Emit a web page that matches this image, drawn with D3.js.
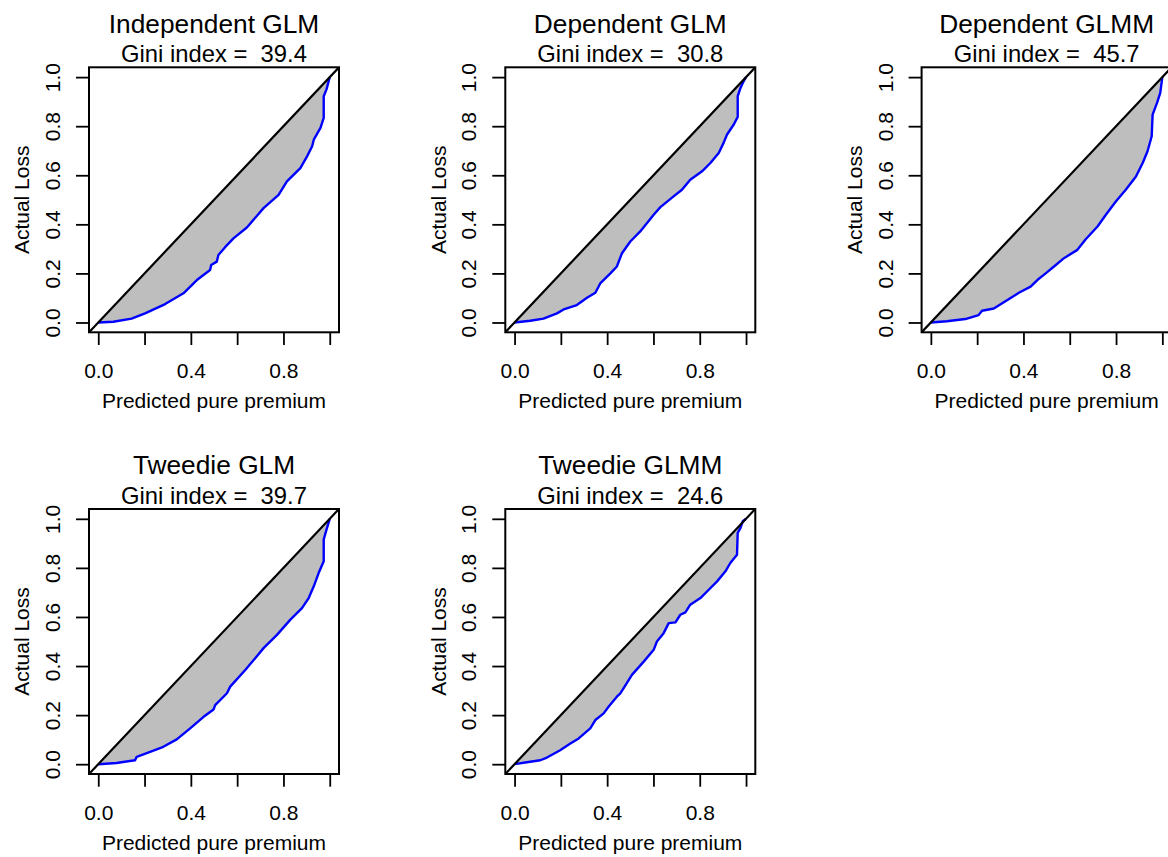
<!DOCTYPE html>
<html>
<head>
<meta charset="utf-8">
<script src="https://cdn.jsdelivr.net/npm/d3@7"></script>
<style>
  html, body { margin: 0; padding: 0; background: #ffffff; }
  svg { display: block; font-family: "Liberation Sans", Arial, Helvetica, sans-serif; }
  text { white-space: pre; }
</style>
</head>
<body>
<svg id="chart" width="1168" height="857"></svg>
<script>
// Model names and Gini indices, one per panel
const modelNames = ["Independent GLM", "Dependent GLM", "Dependent GLMM", "Tweedie GLM", "Tweedie GLMM"];
const giniValues = ["39.4", "30.8", "45.7", "39.7", "24.6"];

// Ordered Lorenz curves: x = predicted pure premium share, y = actual loss share
const indepGlmX = [0, 0.065, 0.144, 0.202, 0.289, 0.368, 0.426, 0.483, 0.488, 0.512, 0.519, 0.548, 0.584, 0.642, 0.714, 0.779, 0.815, 0.873, 0.902, 0.924, 0.931, 0.960, 0.974, 0.974, 0.986, 1];
const indepGlmY = [0, 0.003, 0.016, 0.037, 0.075, 0.119, 0.173, 0.214, 0.234, 0.248, 0.275, 0.307, 0.343, 0.387, 0.466, 0.520, 0.575, 0.629, 0.677, 0.718, 0.745, 0.793, 0.834, 0.922, 0.950, 1];

const depGlmX = [0, 0.068, 0.125, 0.183, 0.212, 0.269, 0.313, 0.349, 0.370, 0.414, 0.442, 0.450, 0.464, 0.500, 0.543, 0.601, 0.630, 0.687, 0.723, 0.759, 0.810, 0.846, 0.882, 0.903, 0.918, 0.947, 0.964, 0.964, 0.976, 0.990, 1];
const depGlmY = [0, 0.007, 0.016, 0.037, 0.053, 0.071, 0.101, 0.121, 0.159, 0.200, 0.228, 0.248, 0.282, 0.330, 0.371, 0.439, 0.470, 0.514, 0.541, 0.582, 0.616, 0.650, 0.691, 0.732, 0.766, 0.807, 0.838, 0.922, 0.956, 0.984, 1];

const depGlmmX = [0, 0.069, 0.149, 0.206, 0.221, 0.272, 0.329, 0.380, 0.431, 0.460, 0.496, 0.532, 0.575, 0.633, 0.669, 0.720, 0.756, 0.799, 0.842, 0.886, 0.915, 0.936, 0.954, 0.958, 0.977, 0.991, 1];
const depGlmmY = [0, 0.005, 0.014, 0.030, 0.048, 0.057, 0.091, 0.121, 0.146, 0.173, 0.200, 0.228, 0.262, 0.296, 0.339, 0.391, 0.439, 0.493, 0.541, 0.595, 0.650, 0.698, 0.759, 0.847, 0.895, 0.936, 1];

const tweedieGlmX = [0, 0.079, 0.159, 0.166, 0.224, 0.281, 0.339, 0.397, 0.455, 0.498, 0.505, 0.556, 0.570, 0.635, 0.678, 0.714, 0.772, 0.830, 0.880, 0.909, 0.931, 0.952, 0.974, 0.974, 0.986, 1];
const tweedieGlmY = [0, 0.005, 0.016, 0.030, 0.050, 0.071, 0.101, 0.146, 0.193, 0.223, 0.241, 0.289, 0.316, 0.384, 0.432, 0.473, 0.527, 0.589, 0.636, 0.677, 0.725, 0.779, 0.827, 0.916, 0.956, 1];

const tweedieGlmmX = [0, 0.046, 0.111, 0.140, 0.197, 0.241, 0.277, 0.327, 0.349, 0.385, 0.406, 0.442, 0.457, 0.493, 0.507, 0.558, 0.601, 0.615, 0.644, 0.666, 0.695, 0.716, 0.738, 0.759, 0.803, 0.839, 0.875, 0.911, 0.932, 0.961, 0.964, 0.976, 0.986, 1];
const tweedieGlmmY = [0, 0.007, 0.016, 0.027, 0.057, 0.084, 0.105, 0.146, 0.180, 0.207, 0.234, 0.275, 0.289, 0.343, 0.364, 0.418, 0.466, 0.500, 0.534, 0.575, 0.578, 0.609, 0.619, 0.650, 0.677, 0.711, 0.745, 0.786, 0.820, 0.854, 0.943, 0.963, 0.990, 1];

const curveXs = [indepGlmX, depGlmX, depGlmmX, tweedieGlmX, tweedieGlmmX];
const curveYs = [indepGlmY, depGlmY, depGlmmY, tweedieGlmY, tweedieGlmmY];

// Axis ticks (every tick drawn, only some labelled)
const xTicks = [0, 0.2, 0.4, 0.6, 0.8, 1.0];
const xTickLabels = ["0.0", "", "0.4", "", "0.8", ""];
const yTicks = [0, 0.2, 0.4, 0.6, 0.8, 1.0];
const yTickLabels = ["0.0", "0.2", "0.4", "0.6", "0.8", "1.0"];

const xTitle = "Predicted pure premium";
const yTitle = "Actual Loss";

// Layout of the panel grid
const panelW = 250, panelH = 265;
const firstLeft = 89, firstTop = 67.3;
const colStep = 416.3, rowStep = 441.7;
const nCols = 3;
const axisFont = 21, titleFont = 26.3, giniFont = 23.8;

const svg = d3.select("#chart");

modelNames.forEach((name, i) => {
  const col = i % nCols, row = Math.floor(i / nCols);
  const left = firstLeft + col * colStep;
  const top = firstTop + row * rowStep;

  const x = d3.scaleLinear().domain([-0.04, 1.04]).range([0, panelW]);
  const y = d3.scaleLinear().domain([-0.04, 1.04]).range([panelH, 0]);

  const g = svg.append("g").attr("transform", `translate(${left},${top})`);

  const clipId = "clip" + i;
  g.append("clipPath").attr("id", clipId)
    .append("rect").attr("width", panelW).attr("height", panelH);

  const pts = curveXs[i].map((vx, k) => [vx, curveYs[i][k]]);

  const plot = g.append("g").attr("clip-path", `url(#${clipId})`);

  // shaded region between the curve and the line of equality
  const poly = pts.concat([[1, 1], [0, 0]]);
  plot.append("path")
    .attr("d", d3.line().x(d => x(d[0])).y(d => y(d[1]))(poly) + "Z")
    .attr("fill", "#bebebe")
    .attr("stroke", "none");

  // Lorenz curve
  plot.append("path")
    .attr("d", d3.line().x(d => x(d[0])).y(d => y(d[1]))(pts))
    .attr("fill", "none")
    .attr("stroke", "#0000ff")
    .attr("stroke-width", 2.4)
    .attr("stroke-linejoin", "round");

  // line of equality
  plot.append("line")
    .attr("x1", x(-0.04)).attr("y1", y(-0.04))
    .attr("x2", x(1.04)).attr("y2", y(1.04))
    .attr("stroke", "#000").attr("stroke-width", 2.2);

  // axes
  const xAxis = d3.axisBottom(x).tickValues(xTicks)
    .tickFormat((d, k) => xTickLabels[k]).tickSize(12.7).tickSizeOuter(0).tickPadding(0);
  const gx = g.append("g").attr("transform", `translate(0,${panelH})`).call(xAxis);
  gx.select(".domain").remove();
  gx.selectAll(".tick line").attr("stroke", "#000").attr("stroke-width", 1.8);
  gx.selectAll(".tick text")
    .attr("y", 46).attr("dy", null)
    .attr("font-size", axisFont).attr("font-family", null).attr("fill", "#000");

  const yAxis = d3.axisLeft(y).tickValues(yTicks)
    .tickFormat((d, k) => yTickLabels[k]).tickSize(13).tickSizeOuter(0).tickPadding(0);
  const gy = g.append("g").call(yAxis);
  gy.select(".domain").remove();
  gy.selectAll(".tick line").attr("stroke", "#000").attr("stroke-width", 1.8);
  gy.selectAll(".tick text")
    .attr("x", null).attr("dy", null)
    .attr("transform", "translate(-29,0) rotate(-90)")
    .attr("text-anchor", "middle")
    .attr("font-size", axisFont).attr("font-family", null).attr("fill", "#000");

  // plot frame
  g.append("rect")
    .attr("width", panelW).attr("height", panelH)
    .attr("fill", "none").attr("stroke", "#000").attr("stroke-width", 2);

  // titles
  g.append("text")
    .attr("x", panelW / 2).attr("y", -34.6)
    .attr("text-anchor", "middle").attr("font-size", titleFont)
    .text(name);
  g.append("text")
    .attr("x", panelW / 2).attr("y", -5.3)
    .attr("text-anchor", "middle").attr("font-size", giniFont)
    .text("Gini index =  " + giniValues[i]);

  g.append("text")
    .attr("x", panelW / 2).attr("y", panelH + 76)
    .attr("text-anchor", "middle").attr("font-size", axisFont)
    .text(xTitle);
  g.append("text")
    .attr("transform", `translate(-59.7,${panelH / 2}) rotate(-90)`)
    .attr("text-anchor", "middle").attr("font-size", axisFont)
    .text(yTitle);
});
</script>
</body>
</html>
